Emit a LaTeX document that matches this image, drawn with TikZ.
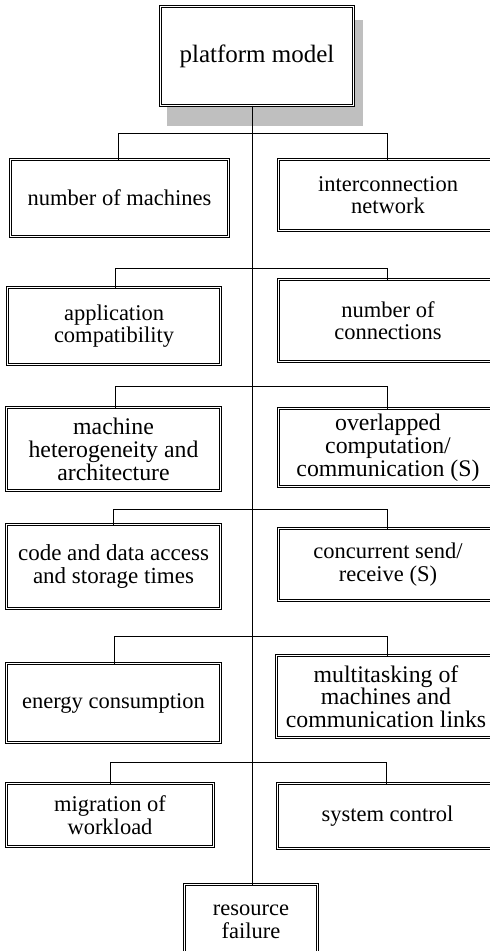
\documentclass[tikz,border=0pt]{standalone}
\usepackage{fontspec}
\setmainfont{Liberation Serif}
\begin{document}
\begin{tikzpicture}[x=1pt,y=-1pt,
  box/.style={draw=black, line width=0.85pt, double=white, double distance=1.5pt,
    fill=white, inner sep=0pt, outer sep=0pt, align=center,
    font=\fontsize{22.5}{22.5}\selectfont},
  rootbox/.style={box, font=\fontsize{25}{26}\selectfont},
  bigtext/.style={font=\fontsize{23.8}{23}\selectfont},
  midtext/.style={font=\fontsize{23}{23}\selectfont},
  conn/.style={line width=0.8pt, draw=black},
  shade/.style={fill=black!25, draw=none}]
\useasboundingbox (0,0) rectangle (490,951);
\clip (0,0) rectangle (490,951);

% shadow of the root box
\fill[shade] (167,20) rectangle (363,126);

% boxes
\node[rootbox, minimum width=193, minimum height=99] (root) at (257,56) {platform model};

\node[box, minimum width=218, minimum height=77] (n1) at (119.5,198) {number of machines};
\node[box, minimum width=219, minimum height=71] (n2) at (388,195) {interconnection\\network};

\node[box, minimum width=213, minimum height=77] (n3) at (114,326) {application\\compatibility};
\node[box, minimum width=219, minimum height=82] (n4) at (388,320.5) {number of\\connections};

\node[box, bigtext, minimum width=214, minimum height=83] (n5) at (113.5,449) {machine\\heterogeneity and\\architecture};
\node[box, bigtext, minimum width=219, minimum height=78] (n6) at (388,447.5) {overlapped\\computation/\\communication (S)};

\node[box, midtext, minimum width=214, minimum height=84] (n7) at (113.5,566.5) {code and data access\\and storage times};
\node[box, minimum width=219, minimum height=72] (n8) at (388,564.5) {concurrent send/\\receive (S)};

\node[box, minimum width=214, minimum height=79] (n9) at (113.5,703) {energy consumption};
\node[box, font=\fontsize{23.8}{22.5}\selectfont, minimum width=219, minimum height=82] (n10) at (386,696.5) {multitasking of\\machines and\\communication links};

\node[box, minimum width=207, minimum height=63] (n11) at (110,815) {migration of\\workload};
\node[box, minimum width=220, minimum height=65] (n12) at (387.5,816) {system control};

\node[box, minimum width=133, minimum height=75] (n13) at (251,922) {resource\\failure};

% trunk
\coordinate (t) at (252,0);
\draw[conn] (t |- root.south) -- (t |- n13.north);

% branch bars
\coordinate (b1l) at (118,133); \coordinate (b1r) at (387,133);
\coordinate (b2l) at (115,268); \coordinate (b2r) at (387,268);
\coordinate (b3l) at (115,386); \coordinate (b3r) at (387,386);
\coordinate (b4l) at (113,509); \coordinate (b4r) at (387,509);
\coordinate (b5l) at (114,636); \coordinate (b5r) at (387,636);
\coordinate (b6l) at (110,762); \coordinate (b6r) at (386,762);

\draw[conn] (b1l |- n1.north) -- (b1l) -- (b1r) -- (b1r |- n2.north);
\draw[conn] (b2l |- n3.north) -- (b2l) -- (b2r) -- (b2r |- n4.north);
\draw[conn] (b3l |- n5.north) -- (b3l) -- (b3r) -- (b3r |- n6.north);
\draw[conn] (b4l |- n7.north) -- (b4l) -- (b4r) -- (b4r |- n8.north);
\draw[conn] (b5l |- n9.north) -- (b5l) -- (b5r) -- (b5r |- n10.north);
\draw[conn] (b6l |- n11.north) -- (b6l) -- (b6r) -- (b6r |- n12.north);
\end{tikzpicture}
\end{document}
